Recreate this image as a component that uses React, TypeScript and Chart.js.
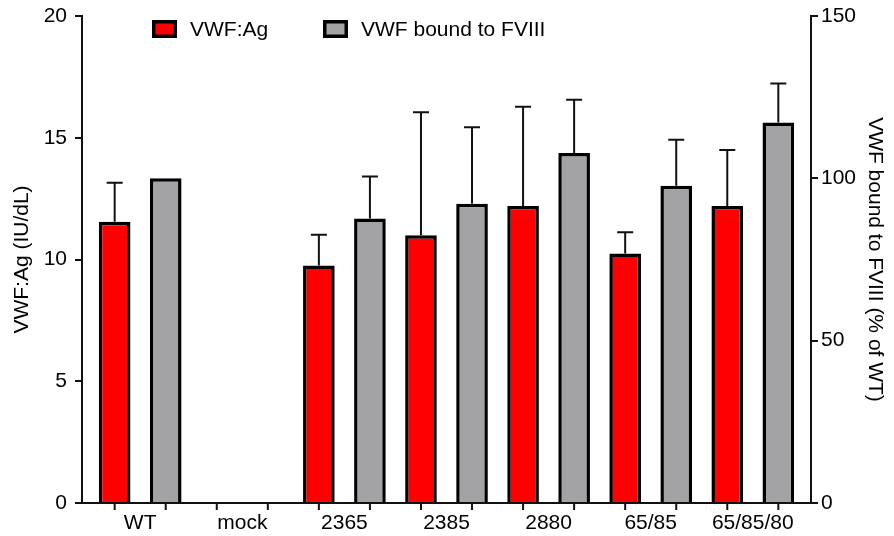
import React, { useEffect, useRef } from 'react';
import { Chart, registerables } from 'chart.js';

Chart.register(...registerables);

const categories = ['WT', 'mock', '2365', '2385', '2880', '65/85', '65/85/80'];
const vwfAg = [11.55, null, 9.75, 11.0, 12.2, 10.25, 12.2];
const vwfAgSD = [1.6, 0, 1.27, 5.05, 4.07, 0.87, 2.3];
const vwfBound = [100, null, 87.6, 92.2, 107.8, 97.7, 117.2];
const vwfBoundSD = [0, 0, 13, 23.5, 16.4, 14.2, 12];
const leftTicks = [0, 5, 10, 15, 20];
const rightTicks = [0, 50, 100, 150];

const FONT = '"Liberation Sans", Arial, Helvetica, sans-serif';

const errorBarsPlugin = {
  id: 'errorBars',
  afterDatasetsDraw(chart: any) {
    const ctx = chart.ctx;
    ctx.save();
    ctx.strokeStyle = '#111';
    ctx.lineWidth = 2;
    chart.data.datasets.forEach((ds: any, di: number) => {
      const meta = chart.getDatasetMeta(di);
      const scale = chart.scales[ds.yAxisID];
      meta.data.forEach((el: any, i: number) => {
        const v = ds.data[i].y;
        const e = ds.errors[i];
        if (v == null || !e) return;
        const top = scale.getPixelForValue(v + e);
        ctx.beginPath();
        ctx.moveTo(el.x, el.y);
        ctx.lineTo(el.x, top);
        ctx.moveTo(el.x - 8, top);
        ctx.lineTo(el.x + 8, top);
        ctx.stroke();
      });
    });
    ctx.restore();
  },
};

const barTicksPlugin = {
  id: 'barTicks',
  afterDraw(chart: any) {
    const ctx = chart.ctx;
    const bottom = chart.chartArea.bottom;
    ctx.save();
    ctx.strokeStyle = '#111';
    ctx.lineWidth = 2;
    chart.data.datasets.forEach((_ds: any, di: number) => {
      const meta = chart.getDatasetMeta(di);
      meta.data.forEach((el: any) => {
        if (!isFinite(el.x)) return;
        ctx.beginPath();
        ctx.moveTo(el.x, bottom);
        ctx.lineTo(el.x, bottom + 7);
        ctx.stroke();
      });
    });
    ctx.restore();
  },
};

const legendPlugin = {
  id: 'customLegend',
  afterDraw(chart: any, _args: any, opts: any) {
    const { ctx, chartArea } = chart;
    ctx.save();
    ctx.font = `21px ${FONT}`;
    ctx.textBaseline = 'middle';
    ctx.textAlign = 'left';
    chart.data.datasets.forEach((ds: any, i: number) => {
      const x = chartArea.left + opts.offsets[i];
      const y = chartArea.top + 4;
      ctx.fillStyle = ds.backgroundColor;
      ctx.fillRect(x, y, 25, 18);
      ctx.strokeStyle = '#000';
      ctx.lineWidth = 3.5;
      ctx.strokeRect(x + 1.75, y + 1.75, 21.5, 14.5);
      ctx.fillStyle = '#000';
      ctx.fillText(ds.label, x + 38, y + 10);
    });
    ctx.restore();
  },
};

export default function App() {
  const canvasRef = useRef<HTMLCanvasElement | null>(null);

  useEffect(() => {
    document.body.style.margin = '0';
    const canvas = canvasRef.current;
    if (!canvas) return;
    const chart = new Chart(canvas, {
      type: 'bar',
      data: {
        datasets: [
          {
            label: 'VWF:Ag',
            data: vwfAg.map((v, i) => ({ x: i, y: v })) as any,
            errors: vwfAgSD,
            yAxisID: 'y',
            backgroundColor: '#ff0000',
            borderColor: '#000',
            borderWidth: 3.5,
            barPercentage: 0.62,
            categoryPercentage: 1.0,
          } as any,
          {
            label: 'VWF bound to FVIII',
            data: vwfBound.map((v, i) => ({ x: i, y: v })) as any,
            errors: vwfBoundSD,
            yAxisID: 'y1',
            backgroundColor: '#a3a3a6',
            borderColor: '#000',
            borderWidth: 3.5,
            barPercentage: 0.62,
            categoryPercentage: 1.0,
          } as any,
        ],
      },
      options: {
        responsive: false,
        animation: false,
        layout: { padding: { top: 16, left: 0, right: 0, bottom: 0 } },
        plugins: {
          legend: { display: false },
          tooltip: { enabled: false },
          customLegend: { offsets: [70, 241] },
        } as any,
        scales: {
          x: {
            type: 'linear',
            min: -0.57,
            max: categories.length - 1 + 0.57,
            offset: false,
            afterBuildTicks: (scale: any) => {
              scale.ticks = categories.map((_c, i) => ({ value: i }));
            },
            afterFit: (scale: any) => {
              scale.height = 33;
              scale.paddingLeft = 0;
              scale.paddingRight = 0;
            },
            grid: { display: false, drawTicks: false },
            border: { display: true, color: '#111', width: 2 },
            ticks: {
              autoSkip: false,
              maxRotation: 0,
              padding: 8,
              color: '#000',
              font: { family: FONT, size: 21 },
              callback: (value: any) => categories[Math.round(Number(value))] ?? '',
            },
          },
          y: {
            type: 'linear',
            position: 'left',
            min: leftTicks[0],
            max: leftTicks[leftTicks.length - 1],
            afterBuildTicks: (scale: any) => {
              scale.ticks = leftTicks.map((v) => ({ value: v }));
            },
            afterFit: (scale: any) => {
              scale.width = 82;
              scale.paddingTop = 0;
              scale.paddingBottom = 0;
            },
            grid: { drawOnChartArea: false, drawTicks: true, tickLength: 7, color: '#111', lineWidth: 2 },
            border: { display: true, color: '#111', width: 2 },
            ticks: { padding: 8, color: '#000', font: { family: FONT, size: 21 } },
            title: {
              display: true,
              text: 'VWF:Ag (IU/dL)',
              color: '#000',
              font: { family: FONT, size: 21 },
              padding: { top: 10, bottom: 0 },
            },
          },
          y1: {
            type: 'linear',
            position: 'right',
            min: rightTicks[0],
            max: rightTicks[rightTicks.length - 1],
            afterBuildTicks: (scale: any) => {
              scale.ticks = rightTicks.map((v) => ({ value: v }));
            },
            afterFit: (scale: any) => {
              scale.width = 83;
              scale.paddingTop = 0;
              scale.paddingBottom = 0;
            },
            grid: { drawOnChartArea: false, drawTicks: true, tickLength: 7, color: '#111', lineWidth: 2 },
            border: { display: true, color: '#111', width: 2 },
            ticks: { padding: 3, color: '#000', font: { family: FONT, size: 21 } },
            title: {
              display: true,
              text: 'VWF bound to FVIII (% of WT)',
              color: '#000',
              font: { family: FONT, size: 21 },
              padding: { top: 7, bottom: 0 },
            },
          },
        },
      } as any,
      plugins: [errorBarsPlugin, barTicksPlugin, legendPlugin],
    });
    return () => chart.destroy();
  }, []);

  return (
    <div style={{ width: 894, height: 536 }}>
      <canvas ref={canvasRef} width={894} height={536} />
    </div>
  );
}
